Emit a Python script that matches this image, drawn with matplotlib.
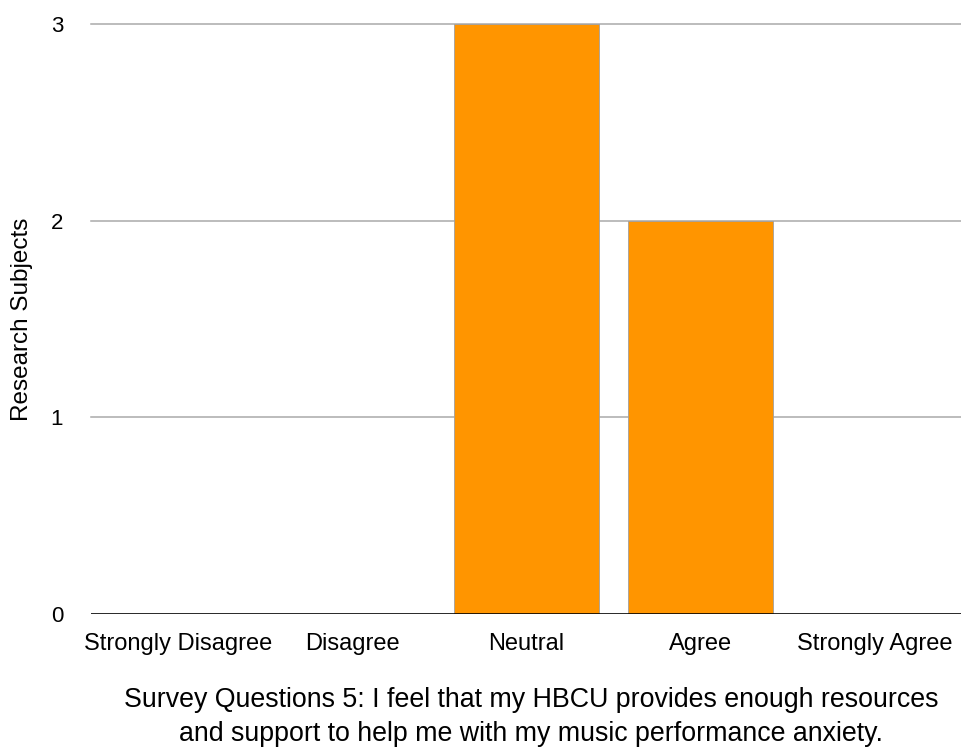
import matplotlib.pyplot as plt

plt.rcParams['font.family'] = ['Liberation Sans', 'DejaVu Sans']

categorias = ["Strongly Disagree", "Disagree", "Neutral", "Agree", "Strongly Agree"]
risposte = [0, 0, 3, 2, 0]
yticks = [0, 1, 2, 3]

fig = plt.figure(figsize=(9.62, 7.52), dpi=100)
ax = fig.add_axes([0.0946, 0.1835, 0.9054, 0.784])

x = list(range(len(categorias)))
ax.bar(x, risposte, width=0.833, color='#FF9500', edgecolor='#a0a0a0',
       linewidth=0.6, zorder=3)

ax.set_xlim(-0.5, len(categorias) - 0.5)
ax.set_ylim(0, 3)
ax.set_yticks(yticks)
ax.set_yticklabels([str(v) for v in yticks], fontsize=16)
ax.set_xticks(x)
ax.set_xticklabels(categorias, fontsize=17)
ax.tick_params(axis='both', length=0)
ax.tick_params(axis='y', pad=20)
ax.tick_params(axis='x', pad=14)

for v in yticks[1:]:
    ax.axhline(v, color='#aaaaaa', linewidth=1.1, zorder=1, clip_on=False)
ax.axhline(0, color='black', linewidth=1.9, zorder=4)

for s in ax.spines.values():
    s.set_visible(False)

ax.set_ylabel("Research Subjects", fontsize=17.5, labelpad=13)

fig.text(0.552, 0.046,
         "Survey Questions 5: I feel that my HBCU provides enough resources\n"
         "and support to help me with my music performance anxiety.",
         ha='center', va='center', fontsize=19.3, linespacing=1.4)

fig.savefig("out.png", dpi=100)
